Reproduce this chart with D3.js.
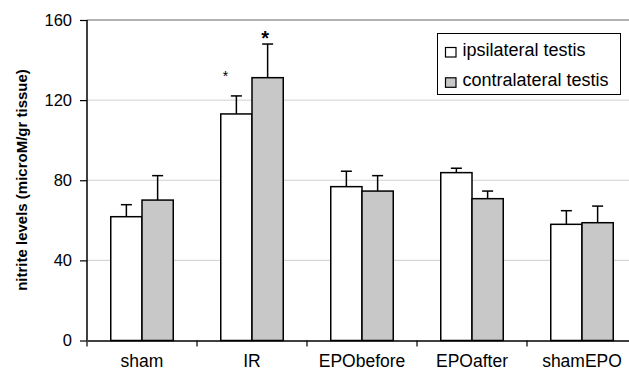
<!DOCTYPE html>
<html><head><meta charset="utf-8">
<script src="https://cdn.jsdelivr.net/npm/d3@7"></script>
<style>body{margin:0;background:#fff}svg{display:block}text{font-family:"Liberation Sans",Arial,sans-serif}</style>
</head><body><svg id="c" width="629" height="370"></svg>
<script>
const categories = ["sham","IR","EPObefore","EPOafter","shamEPO"];
const seriesNames = ["ipsilateral testis","contralateral testis"];
const ipsi = [61.8, 113.1, 76.8, 83.8, 58.0];
const ipsiErr = [6.0, 9.0, 7.7, 2.2, 6.8];
const contra = [70.1, 131.2, 74.6, 70.8, 58.8];
const contraErr = [12.2, 16.8, 7.7, 3.8, 8.3];
const yTicks = [0, 40, 80, 120, 160];
const stars = [{cat:"IR", s:0, text:"*", big:false}, {cat:"IR", s:1, text:"*", big:true}];

const svg = d3.select("#c");
const x0 = 87, x1 = 637, yTop = 20, yBot = 340.5;
const x = d3.scaleBand().domain(categories).range([x0, x1]).paddingInner(0).paddingOuter(0);
const xs = d3.scaleBand().domain([0,1]).range([0, x.bandwidth()]).paddingOuter(0.76).paddingInner(0);
const y = d3.scaleLinear().domain([0,160]).range([yBot, yTop]);
const colors = ["#ffffff", "#c8c8c8"];
const series = [ipsi, contra], errs = [ipsiErr, contraErr];

// gridlines
svg.append("g").selectAll("line").data(yTicks.filter(d=>d>0)).join("line")
  .attr("x1", x0).attr("x2", 629).attr("y1", d=>y(d)).attr("y2", d=>y(d))
  .attr("stroke", d=>d===160?"#999":"#cfcfcf").attr("stroke-width", d=>d===160?1.5:1);

// y axis
const ya = svg.append("g").attr("transform", `translate(${x0},0)`)
  .call(d3.axisLeft(y).tickValues(yTicks).tickSize(7).tickPadding(8).tickFormat(d3.format("d")));
ya.select(".domain").attr("stroke","#000").attr("stroke-width",1.5).attr("d", `M-0,${yTop}V${yBot}`);
ya.selectAll(".tick line").attr("stroke","#000").attr("stroke-width",1.2);
ya.selectAll("text").attr("font-size",16.5).attr("fill","#000");

// bars
categories.forEach((c,i)=>{
  [0,1].forEach(s=>{
    const v = series[s][i], e = errs[s][i];
    const bx = x(c)+xs(s), bw = xs.bandwidth(), cx = bx+bw/2;
    svg.append("line").attr("x1",cx).attr("x2",cx).attr("y1",y(v)).attr("y2",y(v+e)).attr("stroke","#000").attr("stroke-width",1.5);
    svg.append("line").attr("x1",cx-5.5).attr("x2",cx+5.5).attr("y1",y(v+e)).attr("y2",y(v+e)).attr("stroke","#000").attr("stroke-width",1.5);
    svg.append("rect").attr("x",bx).attr("width",bw).attr("y",y(v)).attr("height",y(0)-y(v))
      .attr("fill",colors[s]).attr("stroke","#000").attr("stroke-width",1.5);
  });
});

// stars
stars.forEach(st=>{
  const i = categories.indexOf(st.cat);
  const v = series[st.s][i] + errs[st.s][i];
  const cx = x(st.cat)+xs(st.s)+xs.bandwidth()/2 + (st.big?-2.5:-11);
  svg.append("text").attr("x",cx).attr("y", st.big? y(v)+0.5 : y(v)-15).attr("text-anchor","middle")
    .attr("font-size", st.big?20:14).attr("font-weight", st.big?"bold":"normal").text(st.text);
});

// x axis
const xa = svg.append("g").attr("transform",`translate(0,${yBot})`)
  .call(d3.axisBottom(x).tickSize(0).tickPadding(14));
xa.select(".domain").attr("stroke","#000").attr("stroke-width",1.5);
xa.selectAll("text").attr("font-size",17.5).attr("fill","#000");
svg.append("g").selectAll("line").data(d3.range(categories.length+1)).join("line")
  .attr("x1",d=>x0+d*x.step()).attr("x2",d=>x0+d*x.step()).attr("y1",yBot).attr("y2",yBot+6)
  .attr("stroke","#000").attr("stroke-width",1.2);

// y label
svg.append("text").attr("transform","translate(27,180) rotate(-90)").attr("text-anchor","middle")
  .attr("font-size",15).attr("font-weight","bold").text("nitrite levels (microM/gr tissue)");

// legend
const lg = svg.append("g");
lg.append("rect").attr("x",437.5).attr("y",33.5).attr("width",183).attr("height",61).attr("fill","#fff").attr("stroke","#000").attr("stroke-width",1);
seriesNames.forEach((n,k)=>{
  const cy = 52 + k*30.3;
  lg.append("rect").attr("x",445.5).attr("y",cy-4.5).attr("width",10.5).attr("height",9.5).attr("fill",colors[k]).attr("stroke","#000").attr("stroke-width",1.2);
  lg.append("text").attr("x",462.5).attr("y",cy+3.5).attr("font-size",18).text(n);
});
</script></body></html>
